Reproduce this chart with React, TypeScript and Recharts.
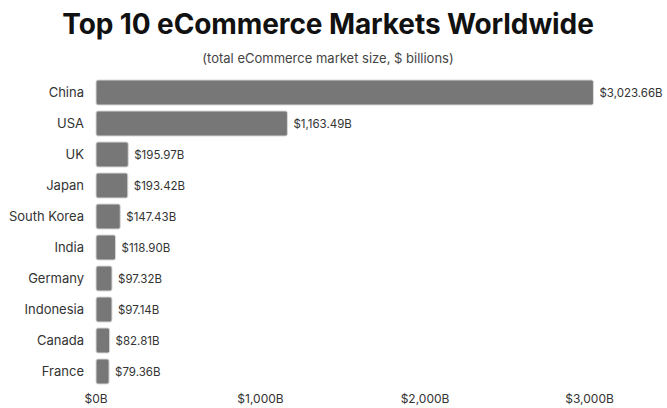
import React from 'react';
import { BarChart, Bar, XAxis, YAxis, LabelList } from 'recharts';

const countries = ['China', 'USA', 'UK', 'Japan', 'South Korea', 'India', 'Germany', 'Indonesia', 'Canada', 'France'];
const marketSize = [3023.66, 1163.49, 195.97, 193.42, 147.43, 118.9, 97.32, 97.14, 82.81, 79.36];
const xTicks = [0, 1000, 2000, 3000];

const data = countries.map((name, i) => ({ name, value: marketSize[i] }));

const font = 'Inter, "Noto Sans", sans-serif';

const fmtAxis = (v: number) => `$${v.toLocaleString('en-US')}B`;
const fmtLabel = (v: any) =>
  `$${Number(v).toLocaleString('en-US', { minimumFractionDigits: 2, maximumFractionDigits: 2 })}B`;

const App: React.FC = () => {
  return (
    <div style={{ position: 'absolute', left: 0, top: 0, width: 667, height: 408, background: '#fff', fontFamily: font }}>
      <div
        style={{
          position: 'absolute',
          top: 6,
          left: 0,
          width: 656,
          textAlign: 'center',
          fontSize: 28,
          fontWeight: 700,
          color: '#111',
          letterSpacing: -0.1,
          lineHeight: '36px',
        }}
      >
        Top 10 eCommerce Markets Worldwide
      </div>
      <div
        style={{
          position: 'absolute',
          top: 49,
          left: 0,
          width: 656,
          textAlign: 'center',
          fontSize: 13,
          color: '#444',
          lineHeight: '18px',
        }}
      >
        (total eCommerce market size, $ billions)
      </div>
      <div style={{ position: 'absolute', left: 0, top: 0 }}>
        <BarChart
          width={667}
          height={408}
          data={data}
          layout="vertical"
          margin={{ top: 77, right: 61, bottom: 0, left: 6 }}
          barCategoryGap={3}
        >
          <XAxis
            type="number"
            domain={[0, 3100]}
            ticks={xTicks}
            tickFormatter={fmtAxis}
            axisLine={false}
            tickLine={false}
            tickSize={4}
            tickMargin={3}
            height={21}
            interval={0}
            tick={{ fill: '#333', fontSize: 12, fontFamily: font }}
          />
          <YAxis
            type="category"
            dataKey="name"
            width={90}
            axisLine={false}
            tickLine={false}
            tickSize={6}
            tickMargin={6}
            interval={0}
            tick={{ fill: '#333', fontSize: 13, fontFamily: font }}
          />
          <Bar dataKey="value" fill="#777777" stroke="#d8d8d8" strokeWidth={1} radius={2} isAnimationActive={false}>
            <LabelList
              dataKey="value"
              position="right"
              offset={6}
              formatter={fmtLabel}
              style={{ fill: '#333', fontSize: 11.5, fontFamily: font }}
            />
          </Bar>
        </BarChart>
      </div>
    </div>
  );
};

export default App;
